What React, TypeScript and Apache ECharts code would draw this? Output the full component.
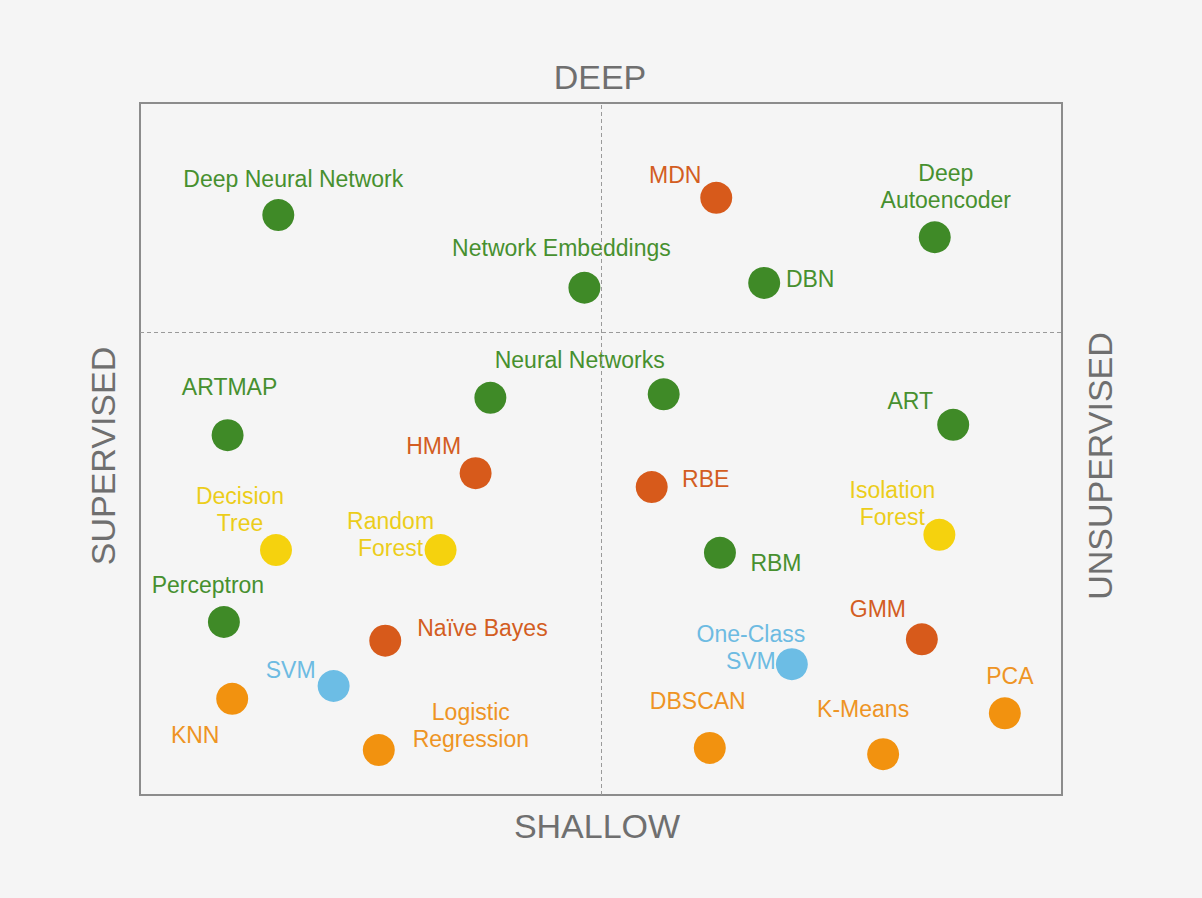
import React, { useEffect, useRef } from "react";
import * as echarts from "echarts";

// Algorithms: name, x (supervised→unsupervised 0..100), y (shallow→deep 0..100), group
const names = [
  "Deep Neural Network", "Network Embeddings", "MDN", "DBN", "Deep\nAutoencoder",
  "", "Neural Networks", "ARTMAP", "HMM", "Decision\nTree", "Random\nForest",
  "Perceptron", "Naïve Bayes", "SVM", "KNN", "Logistic\nRegression",
  "RBE", "ART", "Isolation\nForest", "RBM", "GMM", "One-Class\nSVM", "PCA", "DBSCAN", "K-Means",
];
const xs = [15.0, 48.2, 62.5, 67.7, 86.2, 38.0, 56.8, 9.5, 36.4, 14.75, 32.6, 9.1, 26.6, 21.0, 10.0, 25.9, 55.5, 88.2, 86.7, 62.9, 84.8, 70.7, 93.8, 61.8, 80.6];
const ys = [83.8, 73.3, 86.3, 74.0, 80.6, 57.4, 57.9, 52.0, 46.5, 35.4, 35.4, 25.0, 22.3, 15.75, 13.9, 6.5, 44.5, 53.5, 37.6, 35.0, 22.5, 18.9, 11.8, 6.8, 5.9];
const groups = ["g", "g", "r", "g", "g", "g", "g", "g", "r", "y", "y", "g", "r", "b", "o", "o", "r", "g", "y", "g", "r", "b", "o", "o", "o"];
const labelDx = [15, -23, -41, 46, 11, 0, -84, 2, -42, -36, -50, -16, 32, -43, -37, 92, 54, -43, -47, 56, -44, -41, 5, -12, -20];
const labelDy = [-36, -40, -23, -4, -51, 0, -34, -48, -27, -41, -16, -37, -13, -16, 36, -25, -8, -24, -31, 10, -30, -17, -37, -47, -45];
const labelAlign = ["center", "center", "center", "center", "center", "center", "center", "center", "center", "center", "center", "center", "left", "center", "center", "center", "center", "center", "center", "center", "center", "center", "center", "center", "center"];

const dotColors: Record<string, string> = { g: "#3f8a27", r: "#d75a1b", o: "#f2920f", y: "#f5d20e", b: "#6cbde5" };
const textColors: Record<string, string> = { g: "#47902f", r: "#d35d22", o: "#ee9424", y: "#eccd1a", b: "#6dbbe2" };

const midX = 50;
const midY = 66.8;

export default function App() {
  const ref = useRef<HTMLDivElement>(null);
  useEffect(() => {
    document.body.style.margin = "0";
    const chart = echarts.init(ref.current!, undefined, { renderer: "svg" });
    const data = names.map((n, i) => ({
      value: [xs[i], ys[i]],
      name: n,
      itemStyle: { color: dotColors[groups[i]], opacity: 1 },
      label: {
        show: n !== "",
        formatter: n,
        position: "inside",
        offset: [labelDx[i], labelDy[i]],
        align: labelAlign[i],
        verticalAlign: "middle",
        color: textColors[groups[i]],
        fontSize: 23,
        lineHeight: 27,
        fontFamily: "Liberation Sans, Arial, sans-serif",
      },
    }));
    const titleStyle = { fontSize: 34, fill: "#6f6f6f", fontFamily: "Liberation Sans, Arial, sans-serif", align: "center", verticalAlign: "middle" };
    chart.setOption({
      animation: false,
      backgroundColor: "#f5f5f5",
      grid: { left: 140, top: 103, width: 922, height: 692, show: true, borderColor: "#8c8c8c", borderWidth: 2, backgroundColor: "transparent" },
      xAxis: { type: "value", min: 0, max: 100, show: false },
      yAxis: { type: "value", min: 0, max: 100, show: false },
      series: [
        {
          type: "scatter",
          symbolSize: 32,
          itemStyle: { opacity: 1 },
          data,
          markLine: {
            silent: true,
            symbol: "none",
            label: { show: false },
            lineStyle: { type: [4, 3], color: "#9a9a9a", width: 1, opacity: 1 },
            data: [{ xAxis: midX }, { yAxis: midY }],
          },
          z: 3,
        },
      ],
      graphic: [
        { type: "text", x: 600, y: 77, style: { ...titleStyle, text: "DEEP" } },
        { type: "text", x: 597, y: 826, style: { ...titleStyle, text: "SHALLOW" } },
        { type: "text", x: 103, y: 456, rotation: Math.PI / 2, style: { ...titleStyle, text: "SUPERVISED" } },
        { type: "text", x: 1100, y: 466, rotation: Math.PI / 2, style: { ...titleStyle, text: "UNSUPERVISED" } },
      ],
    });
    return () => chart.dispose();
  }, []);
  return <div ref={ref} style={{ width: 1202, height: 898 }} />;
}
